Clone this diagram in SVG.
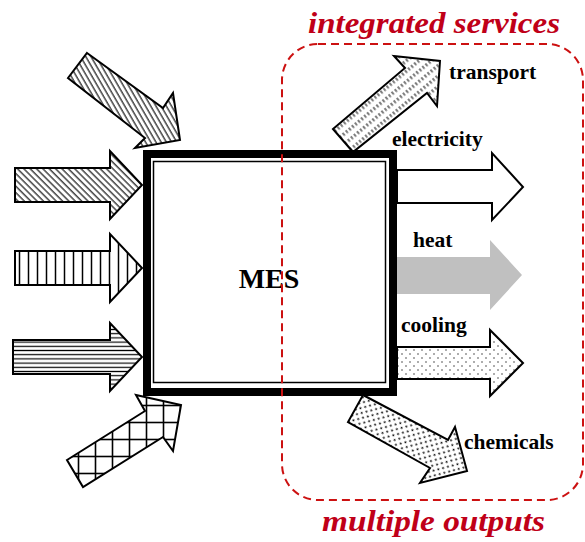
<svg xmlns="http://www.w3.org/2000/svg" width="585" height="542" viewBox="0 0 585 542">
<style>
.arr{stroke:#000;stroke-width:2;stroke-linejoin:miter}
.lbl{font-family:"Liberation Serif","Times New Roman",serif;font-weight:bold;font-size:21.5px;fill:#000}
.red{font-family:"Liberation Serif","Times New Roman",serif;font-weight:bold;font-style:italic;font-size:29px;fill:#c00018}
</style>
<defs>
<pattern id="diagA" width="4.5" height="4.5" patternUnits="userSpaceOnUse" patternTransform="rotate(-30)">
<rect width="4.5" height="4.5" fill="#fff"/><line x1="1" y1="0" x2="1" y2="4.5" stroke="#000" stroke-width="1.1"/>
</pattern>
<pattern id="diagB" width="4.5" height="4.5" patternUnits="userSpaceOnUse" patternTransform="rotate(-45)">
<rect width="4.5" height="4.5" fill="#fff"/><line x1="1" y1="0" x2="1" y2="4.5" stroke="#000" stroke-width="1.1"/>
</pattern>
<pattern id="vert" width="9" height="9" patternUnits="userSpaceOnUse" patternTransform="translate(15 0)">
<rect width="9" height="9" fill="#fff"/><line x1="4.5" y1="0" x2="4.5" y2="9" stroke="#000" stroke-width="1.5"/>
</pattern>
<pattern id="horiz" width="4.2" height="4.2" patternUnits="userSpaceOnUse" patternTransform="translate(0 340)">
<rect width="4.2" height="4.2" fill="#fff"/><line x1="0" y1="2.1" x2="4.2" y2="2.1" stroke="#000" stroke-width="1.2"/>
</pattern>
<pattern id="cross" width="17" height="17" patternUnits="userSpaceOnUse" patternTransform="translate(2 6)">
<rect width="17" height="17" fill="#fff"/>
<line x1="8.5" y1="0" x2="8.5" y2="17" stroke="#000" stroke-width="1.6"/>
<line x1="0" y1="8.5" x2="17" y2="8.5" stroke="#000" stroke-width="1.6"/>
</pattern>
<pattern id="dash" width="4" height="8" patternUnits="userSpaceOnUse" patternTransform="rotate(-40)">
<rect width="4" height="8" fill="#fff"/><line x1="1" y1="2" x2="1" y2="5.5" stroke="#000" stroke-width="1"/>
</pattern>
<pattern id="dotS" width="8" height="8" patternUnits="userSpaceOnUse">
<rect width="8" height="8" fill="#fff"/><circle cx="2" cy="2" r="0.8" fill="#444"/><circle cx="6" cy="6" r="0.8" fill="#444"/>
</pattern>
<pattern id="dotD" width="7" height="7" patternUnits="userSpaceOnUse" patternTransform="rotate(30)">
<rect width="7" height="7" fill="#fff"/><circle cx="1.75" cy="1.75" r="1.05" fill="#111"/><circle cx="5.25" cy="5.25" r="1.05" fill="#111"/>
</pattern>
</defs>

<g id="connectors">
<polygon id="in1" class="arr" fill="url(#diagA)" points="87,53 163,108 173,93 180,140 135,148 145,138 68,78"/>
<polygon id="in2" class="arr" fill="url(#diagB)" points="15,168 110,168 110,151 142,185 110,219 110,202 15,202"/>
<polygon id="in3" class="arr" fill="url(#vert)" points="15,251 110,251 110,234 142,268 110,302 110,285 15,285"/>
<polygon id="in4" class="arr" fill="url(#horiz)" points="13,340 110,340 110,323 142,357 110,391 110,374 13,374"/>
<polygon id="in5" class="arr" fill="url(#cross)" points="67,460 145,411 136,395 181,405 173,451 163,437 83,487"/>
<polygon id="out-transport" class="arr" fill="url(#dash)" points="333,129 405,68 394,56 440,61 437,106 427,93 353,152"/>
<polygon id="out-electricity" class="arr" fill="#fff" points="397,170 492,170 492,153 523,187 492,220 492,203 397,203"/>
<polygon id="out-heat" fill="#c0c0c0" points="395,257 490,257 490,240 522,275 490,310 490,294 395,294"/>
<polygon id="out-cooling" class="arr" fill="url(#dotS)" points="397,347 490,347 490,330 523,363 490,396 490,379 397,379"/>
<polygon id="out-chemicals" class="arr" fill="url(#dotD)" points="363,395 448,440 455,427 467,471 420,483 430,468 348,422"/>
</g>

<g id="mes">
<rect x="147" y="154" width="246" height="238" fill="#fff" stroke="#000" stroke-width="8"/>
<rect x="153.5" y="161.5" width="232" height="221" fill="none" stroke="#000" stroke-width="1.5"/>
<text x="269" y="288" text-anchor="middle" font-family="Liberation Serif, Times New Roman, serif" font-weight="bold" font-size="28">MES</text>
</g>

<g id="region">
<rect x="282" y="44" width="301" height="456" rx="36" ry="36" fill="none" stroke="#cc1111" stroke-width="2" stroke-dasharray="8,5"/>
<text class="red" x="308" y="33" textLength="252" lengthAdjust="spacingAndGlyphs">integrated services</text>
<text class="red" x="322" y="531" textLength="223" lengthAdjust="spacingAndGlyphs">multiple outputs</text>
</g>

<g id="labels">
<text class="lbl" x="449" y="79">transport</text>
<text class="lbl" x="392" y="146">electricity</text>
<text class="lbl" x="413" y="247">heat</text>
<text class="lbl" x="401" y="332">cooling</text>
<text class="lbl" x="464" y="449">chemicals</text>
</g>
</svg>
